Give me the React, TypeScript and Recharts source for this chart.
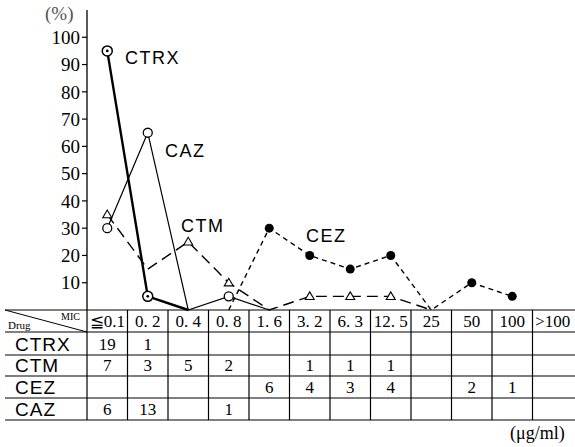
import { LineChart, Line, XAxis, YAxis } from "recharts";

const micLabels = ["≦0.1", "0. 2", "0. 4", "0. 8", "1. 6", "3. 2", "6. 3", "12. 5", "25", "50", "100", ">100"];
const ctrx = [95, 5, 0, null, null, null, null, null, null, null, null, null];
const caz = [30, 65, 0, 5, 0, null, null, null, null, null, null, null];
const ctm = [35, 15, 25, 10, 0, 5, 5, 5, 0, null, null, null];
const cez = [null, null, null, 0, 30, 20, 15, 20, 0, 10, 5, null];
const yTicks = [10, 20, 30, 40, 50, 60, 70, 80, 90, 100];

const drugs = ["CTRX", "CTM", "CEZ", "CAZ"];
const counts: (string | null)[][] = [
  ["19", "1", null, null, null, null, null, null, null, null, null, null],
  ["7", "3", "5", "2", null, "1", "1", "1", null, null, null, null],
  [null, null, null, null, "6", "4", "3", "4", null, "2", "1", null],
  ["6", "13", null, "1", null, null, null, null, null, null, null, null],
];

const data = micLabels.map((mic, i) => ({
  mic,
  CTRX: ctrx[i],
  CAZ: caz[i],
  CTM: ctm[i],
  CEZ: cez[i],
}));

const serif = "'Liberation Serif', 'DejaVu Serif', serif";
const sans = "'Liberation Sans', 'DejaVu Sans', sans-serif";
const W = 575;
const H = 447;
const colW = 40.5;
const rowY = [0, 22, 45, 66, 88, 110];

// value 0 points and the CTM 0.2 vertex carry no marker in the original
const hidden = (key: string, index: number, value: number | null) =>
  value === null || value === 0 || (key === "CTM" && index === 1);

function CtrxDot(props: any) {
  const { cx, cy, index, value } = props;
  if (hidden("CTRX", index, value) || cx == null) return null;
  return (
    <g key={`ctrx-${index}`}>
      <circle cx={cx} cy={cy} r={5} fill="#fff" stroke="#000" strokeWidth={1.5} />
      <circle cx={cx} cy={cy} r={1.4} fill="#000" />
    </g>
  );
}

function CazDot(props: any) {
  const { cx, cy, index, value } = props;
  if (hidden("CAZ", index, value) || cx == null) return null;
  return <circle key={`caz-${index}`} cx={cx} cy={cy} r={4.5} fill="#fff" stroke="#000" strokeWidth={1.3} />;
}

function CtmDot(props: any) {
  const { cx, cy, index, value } = props;
  if (hidden("CTM", index, value) || cx == null) return null;
  const s = 4.5;
  return (
    <polygon
      key={`ctm-${index}`}
      points={`${cx},${cy - s} ${cx - s},${cy + s * 0.7} ${cx + s},${cy + s * 0.7}`}
      fill="#fff"
      stroke="#000"
      strokeWidth={1.1}
    />
  );
}

function CezDot(props: any) {
  const { cx, cy, index, value } = props;
  if (hidden("CEZ", index, value) || cx == null) return null;
  return <circle key={`cez-${index}`} cx={cx} cy={cy} r={4.5} fill="#000" />;
}

function TableTick(props: any) {
  const { x, y, payload, index } = props;
  const left = x - colW / 2;
  return (
    <g>
      {index === 0 && (
        <g>
          {rowY.map((ry) => (
            <line key={ry} x1={5} x2={W} y1={y + ry} y2={y + ry} stroke="#000" strokeWidth={1.2} />
          ))}
          <line x1={5} y1={y} x2={left} y2={y + rowY[1]} stroke="#000" strokeWidth={1} />
          <text x={80} y={y + 10} fontSize={10} fontFamily={serif} textAnchor="end">MIC</text>
          <text x={8} y={y + 19} fontSize={11} fontFamily={serif}>Drug</text>
          {drugs.map((d, r) => (
            <text key={d} x={15} y={y + rowY[r + 2] - 4} fontSize={19} fontFamily={sans} letterSpacing={1}>
              {d}
            </text>
          ))}
        </g>
      )}
      <line x1={left} x2={left} y1={y} y2={y + rowY[5]} stroke="#000" strokeWidth={1.2} />
      <text x={x} y={y + 17} fontSize={17} fontFamily={serif} textAnchor="middle">
        {payload.value}
      </text>
      {counts.map((row, r) =>
        row[index] ? (
          <text key={r} x={x} y={y + rowY[r + 2] - 5} fontSize={17} fontFamily={serif} textAnchor="middle">
            {row[index]}
          </text>
        ) : null
      )}
    </g>
  );
}

export default function App() {
  return (
    <div style={{ position: "relative", width: W, height: H, background: "#fff" }}>
      <style>{`body{margin:0}`}</style>
      <LineChart width={W} height={H} data={data} margin={{ top: 10, right: 2, left: 0, bottom: 0 }}>
        <XAxis
          dataKey="mic"
          height={137}
          padding={{ left: colW / 2, right: colW / 2 }}
          axisLine={false}
          tickLine={false}
          tickSize={0}
          tickMargin={0}
          interval={0}
          tick={<TableTick />}
        />
        <YAxis
          domain={[0, 110]}
          ticks={yTicks}
          interval={0}
          width={87}
          axisLine={{ stroke: "#000", strokeWidth: 1.3 }}
          tickLine={{ stroke: "#000", strokeWidth: 1.2 }}
          tickSize={5}
          tickMargin={2}
          tick={{ fill: "#000", fontSize: 19, fontFamily: serif }}
        />
        <Line dataKey="CEZ" stroke="#000" strokeWidth={1.4} strokeDasharray="5 4" dot={<CezDot />} activeDot={false} connectNulls={false} isAnimationActive={false} />
        <Line dataKey="CTM" stroke="#000" strokeWidth={1.4} strokeDasharray="11 6" dot={<CtmDot />} activeDot={false} connectNulls={false} isAnimationActive={false} />
        <Line dataKey="CAZ" stroke="#000" strokeWidth={1.2} dot={<CazDot />} activeDot={false} connectNulls={false} isAnimationActive={false} />
        <Line dataKey="CTRX" stroke="#000" strokeWidth={2.4} dot={<CtrxDot />} activeDot={false} connectNulls={false} isAnimationActive={false} />
      </LineChart>
      <svg width={W} height={H} style={{ position: "absolute", left: 0, top: 0, pointerEvents: "none" }}>
        <text x={45} y={20} fontSize={19} fontFamily={serif} fill="#555">(%)</text>
        <text x={125} y={64} fontSize={18} fontFamily={sans} letterSpacing={1.5}>CTRX</text>
        <text x={165} y={157} fontSize={18} fontFamily={sans} letterSpacing={1.5}>CAZ</text>
        <text x={181} y={232} fontSize={18} fontFamily={sans} letterSpacing={1.5}>CTM</text>
        <text x={306} y={242} fontSize={18} fontFamily={sans} letterSpacing={1.5}>CEZ</text>
        <text x={510} y={439} fontSize={18} fontFamily={serif}>(μg/ml)</text>
      </svg>
    </div>
  );
}
